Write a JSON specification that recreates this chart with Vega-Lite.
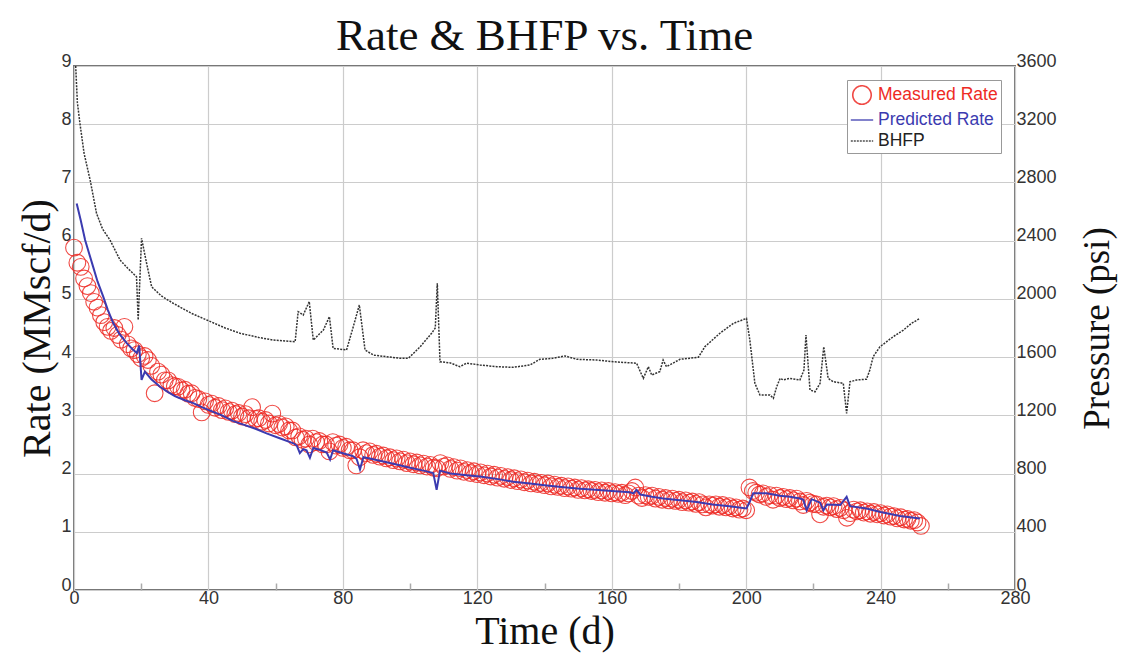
{
"$schema": "https://vega.github.io/schema/vega-lite/v6.json",
"width": 941, "height": 524,
"autosize": {"type": "none"},
"padding": {"left": 74, "top": 66, "right": 116, "bottom": 80},
"background": "white",
"title": {"text": "Rate & BHFP vs. Time", "font": "Liberation Serif", "fontSize": 45, "fontWeight": "normal", "color": "#111111", "anchor": "middle", "offset": -7},
"config": {
  "view": {"stroke": "#777777", "strokeWidth": 2},
  "axis": {"labelFont": "Liberation Sans", "labelFontSize": 18, "labelColor": "#333333", "titleFont": "Liberation Serif", "titleFontSize": 40, "titleFontWeight": "normal", "titleColor": "#111111", "gridColor": "#cccccc", "gridWidth": 1.2, "domain": false, "format": "d"}
},
"datasets": {
"meas": [
{"t":0,"q":5.88},{"t":1,"q":5.62},{"t":2,"q":5.55},{"t":3,"q":5.35},{"t":4,"q":5.22},{"t":5,"q":5.1},{"t":6,"q":4.95},{"t":7,"q":4.85},{"t":8,"q":4.72},{"t":9,"q":4.6},
{"t":10,"q":4.52},{"t":11,"q":4.45},{"t":12,"q":4.5},{"t":13,"q":4.38},{"t":14,"q":4.3},{"t":15,"q":4.52},{"t":16,"q":4.22},{"t":17,"q":4.15},{"t":18,"q":4.12},{"t":19,"q":4.05},
{"t":20,"q":3.98},{"t":21,"q":4.02},{"t":22,"q":3.95},{"t":23,"q":3.85},{"t":24,"q":3.38},{"t":25,"q":3.75},{"t":26,"q":3.7},{"t":27,"q":3.6},{"t":28,"q":3.6},{"t":29,"q":3.52},
{"t":30,"q":3.5},{"t":31,"q":3.49},{"t":32,"q":3.43},{"t":33,"q":3.44},{"t":34,"q":3.37},{"t":35,"q":3.38},{"t":36,"q":3.3},{"t":37,"q":3.28},{"t":38,"q":3.05},{"t":39,"q":3.24},
{"t":40,"q":3.18},{"t":41,"q":3.2},{"t":42,"q":3.13},{"t":43,"q":3.16},{"t":44,"q":3.09},{"t":45,"q":3.12},{"t":46,"q":3.06},{"t":47,"q":3.08},{"t":48,"q":3.02},{"t":49,"q":3.04},
{"t":50,"q":2.98},{"t":51,"q":3.02},{"t":52,"q":2.95},{"t":53,"q":3.14},{"t":54,"q":2.94},{"t":55,"q":2.95},{"t":56,"q":2.89},{"t":57,"q":2.92},{"t":58,"q":2.86},{"t":59,"q":3.03},
{"t":60,"q":2.83},{"t":61,"q":2.85},{"t":62,"q":2.79},{"t":63,"q":2.81},{"t":64,"q":2.74},{"t":65,"q":2.74},{"t":66,"q":2.62},{"t":67,"q":2.64},{"t":68,"q":2.58},{"t":69,"q":2.6},
{"t":70,"q":2.5},{"t":71,"q":2.6},{"t":72,"q":2.54},{"t":73,"q":2.56},{"t":74,"q":2.5},{"t":75,"q":2.5},{"t":76,"q":2.38},{"t":77,"q":2.54},{"t":78,"q":2.48},{"t":79,"q":2.5},
{"t":80,"q":2.44},{"t":81,"q":2.46},{"t":82,"q":2.4},{"t":83,"q":2.4},{"t":84,"q":2.14},{"t":85,"q":2.28},{"t":86,"q":2.4},{"t":87,"q":2.35},{"t":88,"q":2.38},{"t":89,"q":2.32},
{"t":90,"q":2.34},{"t":91,"q":2.29},{"t":92,"q":2.31},{"t":93,"q":2.26},{"t":94,"q":2.28},{"t":95,"q":2.23},{"t":96,"q":2.26},{"t":97,"q":2.21},{"t":98,"q":2.24},{"t":99,"q":2.18},
{"t":100,"q":2.21},{"t":101,"q":2.16},{"t":102,"q":2.19},{"t":103,"q":2.14},{"t":104,"q":2.17},{"t":105,"q":2.12},{"t":106,"q":2.15},{"t":107,"q":2.1},{"t":108,"q":2.09},{"t":109,"q":2.18},
{"t":110,"q":2.12},{"t":111,"q":2.14},{"t":112,"q":2.08},{"t":113,"q":2.11},{"t":114,"q":2.05},{"t":115,"q":2.09},{"t":116,"q":2.03},{"t":117,"q":2.06},{"t":118,"q":2.01},{"t":119,"q":2.04},
{"t":120,"q":1.99},{"t":121,"q":2.02},{"t":122,"q":1.97},{"t":123,"q":2.0},{"t":124,"q":1.95},{"t":125,"q":1.98},{"t":126,"q":1.93},{"t":127,"q":1.96},{"t":128,"q":1.91},{"t":129,"q":1.94},
{"t":130,"q":1.89},{"t":131,"q":1.92},{"t":132,"q":1.87},{"t":133,"q":1.9},{"t":134,"q":1.85},{"t":135,"q":1.88},{"t":136,"q":1.83},{"t":137,"q":1.86},{"t":138,"q":1.82},{"t":139,"q":1.84},
{"t":140,"q":1.8},{"t":141,"q":1.83},{"t":142,"q":1.78},{"t":143,"q":1.81},{"t":144,"q":1.77},{"t":145,"q":1.79},{"t":146,"q":1.75},{"t":147,"q":1.78},{"t":148,"q":1.74},{"t":149,"q":1.76},
{"t":150,"q":1.72},{"t":151,"q":1.75},{"t":152,"q":1.71},{"t":153,"q":1.73},{"t":154,"q":1.7},{"t":155,"q":1.72},{"t":156,"q":1.68},{"t":157,"q":1.71},{"t":158,"q":1.67},{"t":159,"q":1.7},
{"t":160,"q":1.66},{"t":161,"q":1.68},{"t":162,"q":1.65},{"t":163,"q":1.67},{"t":164,"q":1.63},{"t":165,"q":1.66},{"t":166,"q":1.7},{"t":167,"q":1.76},{"t":168,"q":1.62},{"t":169,"q":1.58},
{"t":170,"q":1.63},{"t":171,"q":1.6},{"t":172,"q":1.62},{"t":173,"q":1.57},{"t":174,"q":1.6},{"t":175,"q":1.55},{"t":176,"q":1.58},{"t":177,"q":1.54},{"t":178,"q":1.57},{"t":179,"q":1.53},
{"t":180,"q":1.55},{"t":181,"q":1.51},{"t":182,"q":1.54},{"t":183,"q":1.5},{"t":184,"q":1.52},{"t":185,"q":1.48},{"t":186,"q":1.51},{"t":187,"q":1.47},{"t":188,"q":1.42},{"t":189,"q":1.47},
{"t":190,"q":1.45},{"t":191,"q":1.47},{"t":192,"q":1.43},{"t":193,"q":1.46},{"t":194,"q":1.42},{"t":195,"q":1.44},{"t":196,"q":1.4},{"t":197,"q":1.42},{"t":198,"q":1.38},{"t":199,"q":1.4},
{"t":200,"q":1.37},{"t":201,"q":1.76},{"t":202,"q":1.7},{"t":203,"q":1.67},{"t":204,"q":1.64},{"t":205,"q":1.66},{"t":206,"q":1.6},{"t":207,"q":1.63},{"t":208,"q":1.55},{"t":209,"q":1.62},
{"t":210,"q":1.58},{"t":211,"q":1.6},{"t":212,"q":1.56},{"t":213,"q":1.58},{"t":214,"q":1.54},{"t":215,"q":1.57},{"t":216,"q":1.52},{"t":217,"q":1.46},{"t":218,"q":1.53},{"t":219,"q":1.5},
{"t":220,"q":1.48},{"t":221,"q":1.47},{"t":222,"q":1.3},{"t":223,"q":1.43},{"t":224,"q":1.45},{"t":225,"q":1.42},{"t":226,"q":1.44},{"t":227,"q":1.39},{"t":228,"q":1.41},{"t":229,"q":1.37},
{"t":230,"q":1.24},{"t":231,"q":1.32},{"t":232,"q":1.38},{"t":233,"q":1.35},{"t":234,"q":1.37},{"t":235,"q":1.33},{"t":236,"q":1.35},{"t":237,"q":1.31},{"t":238,"q":1.34},{"t":239,"q":1.3},
{"t":240,"q":1.32},{"t":241,"q":1.28},{"t":242,"q":1.3},{"t":243,"q":1.26},{"t":244,"q":1.27},{"t":245,"q":1.23},{"t":246,"q":1.25},{"t":247,"q":1.21},{"t":248,"q":1.22},{"t":249,"q":1.19},
{"t":250,"q":1.2},{"t":251,"q":1.16},{"t":252,"q":1.1}
],
"pred": [
{"t":0.8,"q":6.64},{"t":2,"q":6.35},{"t":3.3,"q":6.01},{"t":4.5,"q":5.78},{"t":5.7,"q":5.55},{"t":7,"q":5.3},{"t":8.7,"q":5.04},{"t":10,"q":4.82},{"t":11.7,"q":4.58},{"t":13.5,"q":4.4},
{"t":15.7,"q":4.24},{"t":17.5,"q":4.13},{"t":18.7,"q":4.07},{"t":19.4,"q":4.2},{"t":20.1,"q":3.61},{"t":21.1,"q":3.75},{"t":23,"q":3.62},{"t":25.6,"q":3.49},{"t":28,"q":3.4},{"t":30,"q":3.33},
{"t":33,"q":3.26},{"t":35.5,"q":3.21},{"t":38,"q":3.14},{"t":40.5,"q":3.08},{"t":44,"q":3.0},{"t":47.4,"q":2.9},{"t":50.4,"q":2.84},{"t":54,"q":2.77},{"t":57.3,"q":2.69},{"t":61,"q":2.61},
{"t":65.3,"q":2.52},{"t":66.3,"q":2.48},{"t":67.2,"q":2.35},{"t":68.2,"q":2.42},{"t":69.2,"q":2.4},{"t":70.2,"q":2.27},{"t":71.2,"q":2.44},{"t":73,"q":2.41},{"t":75.2,"q":2.36},{"t":76.2,"q":2.24},
{"t":77.1,"q":2.4},{"t":80,"q":2.35},{"t":83,"q":2.3},{"t":84.1,"q":2.25},{"t":85.1,"q":2.07},{"t":86.1,"q":2.28},{"t":88,"q":2.26},{"t":91,"q":2.22},{"t":95,"q":2.17},{"t":100,"q":2.1},
{"t":104,"q":2.05},{"t":106.9,"q":2.01},{"t":107.9,"q":1.72},{"t":108.9,"q":2.05},{"t":112,"q":2.0},{"t":116.8,"q":1.97},{"t":120.8,"q":1.95},{"t":126.7,"q":1.9},{"t":130.7,"q":1.86},{"t":135.7,"q":1.83},
{"t":140,"q":1.8},{"t":145,"q":1.77},{"t":150.5,"q":1.74},{"t":155,"q":1.72},{"t":160,"q":1.7},{"t":165.4,"q":1.68},{"t":166.5,"q":1.66},{"t":167.4,"q":1.72},{"t":168.5,"q":1.64},{"t":172,"q":1.6},
{"t":175.3,"q":1.57},{"t":180.3,"q":1.54},{"t":185.3,"q":1.51},{"t":190,"q":1.47},{"t":195,"q":1.44},{"t":200.1,"q":1.4},{"t":201.1,"q":1.52},{"t":202.1,"q":1.66},{"t":206.1,"q":1.66},{"t":210,"q":1.62},
{"t":213,"q":1.6},{"t":216,"q":1.57},{"t":217,"q":1.55},{"t":218,"q":1.37},{"t":219.5,"q":1.56},{"t":222,"q":1.5},{"t":223,"q":1.37},{"t":224,"q":1.47},{"t":228,"q":1.46},{"t":229.9,"q":1.6},
{"t":230.9,"q":1.44},{"t":235.8,"q":1.4},{"t":240,"q":1.34},{"t":245.8,"q":1.27},{"t":251.7,"q":1.23}
],
"bhfp": [
{"t":0.5,"p":3600},{"t":1,"p":3350},{"t":1.8,"p":3200},{"t":3,"p":3000},{"t":4.8,"p":2817},{"t":6.7,"p":2588},{"t":8.5,"p":2480},{"t":10.7,"p":2405},{"t":13.7,"p":2267},{"t":16,"p":2210},
{"t":18.6,"p":2152},{"t":19.1,"p":1855},{"t":20.1,"p":2416},{"t":21.6,"p":2245},{"t":23.1,"p":2083},{"t":26,"p":2020},{"t":29.5,"p":1970},{"t":35,"p":1900},{"t":39.5,"p":1855},{"t":45,"p":1800},
{"t":49.4,"p":1764},{"t":55,"p":1735},{"t":59.3,"p":1717},{"t":65.8,"p":1706},{"t":66.7,"p":1912},{"t":68.2,"p":1889},{"t":70.0,"p":1981},{"t":71.2,"p":1717},{"t":74.2,"p":1786},{"t":76.0,"p":1878},
{"t":77.1,"p":1660},{"t":81.1,"p":1649},{"t":83.1,"p":1809},{"t":84.9,"p":1958},{"t":86.6,"p":1649},{"t":89.1,"p":1614},{"t":97,"p":1592},{"t":99.5,"p":1592},{"t":103,"p":1671},{"t":106.4,"p":1764},
{"t":107.5,"p":1800},{"t":108.1,"p":2107},{"t":108.9,"p":1568},{"t":112,"p":1560},{"t":114.8,"p":1534},{"t":116.8,"p":1558},{"t":120.8,"p":1546},{"t":125.8,"p":1534},{"t":130.7,"p":1530},{"t":135.7,"p":1546},
{"t":138.6,"p":1585},{"t":142,"p":1590},{"t":146.1,"p":1608},{"t":149.6,"p":1585},{"t":155.5,"p":1580},{"t":160.5,"p":1568},{"t":167.4,"p":1558},{"t":169.4,"p":1454},{"t":170.9,"p":1534},{"t":171.9,"p":1477},
{"t":174.3,"p":1500},{"t":175.3,"p":1580},{"t":176.3,"p":1534},{"t":180.3,"p":1585},{"t":185.8,"p":1599},{"t":187.7,"p":1671},{"t":192.2,"p":1764},{"t":196.2,"p":1832},{"t":200.1,"p":1866},{"t":201.1,"p":1717},
{"t":202.6,"p":1420},{"t":204.1,"p":1340},{"t":207.1,"p":1340},{"t":208.1,"p":1317},{"t":209.1,"p":1397},{"t":210.1,"p":1454},{"t":211.1,"p":1443},{"t":213,"p":1454},{"t":216,"p":1443},{"t":217.2,"p":1511},
{"t":217.8,"p":1752},{"t":219,"p":1374},{"t":220.5,"p":1362},{"t":222,"p":1420},{"t":223.1,"p":1671},{"t":224.4,"p":1454},{"t":225.9,"p":1431},{"t":228.9,"p":1420},{"t":229.9,"p":1214},{"t":230.9,"p":1431},
{"t":232.9,"p":1443},{"t":235.8,"p":1448},{"t":236.8,"p":1511},{"t":237.8,"p":1603},{"t":239.8,"p":1671},{"t":243.8,"p":1741},{"t":246.8,"p":1786},{"t":249.2,"p":1832},{"t":251.7,"p":1866}
]
},
"layer": [
  {
    "layer": [
      {
        "data": {"name": "meas"},
        "mark": {"type": "point", "filled": false, "size": 280, "strokeWidth": 1.1, "opacity": 0.85},
        "encoding": {
          "x": {"field": "t", "type": "quantitative", "scale": {"domain": [0, 280], "nice": false},
                "axis": {"title": "Time (d)", "values": [0,20,40,60,80,100,120,140,160,180,200,220,240,260,280],
                         "labelExpr": "datum.value % 40 === 0 ? datum.label : ''",
                         "gridColor": {"condition": {"test": "datum.value % 40 === 0", "value": "#cccccc"}, "value": "transparent"},
                         "tickColor": {"condition": {"test": "datum.value % 40 === 0", "value": "transparent"}, "value": "#aaaaaa"},
                         "tickSize": -7, "tickWidth": 1.5, "labelPadding": 6, "titlePadding": 4, "labelFlush": false}},
          "y": {"field": "q", "type": "quantitative", "scale": {"domain": [0, 9], "nice": false},
                "axis": {"title": "Rate (MMscf/d)", "values": [0,1,2,3,4,5,6,7,8,9], "ticks": false, "labelPadding": 3, "labelBaseline": "alphabetic", "titlePadding": 3}},
          "color": {"datum": "Measured Rate", "type": "nominal",
                    "scale": {"domain": ["Measured Rate", "Predicted Rate", "BHFP"], "range": ["#ee2a24", "#3b3bb0", "#333333"]},
                    "legend": {"title": null, "orient": "top-right", "offset": 14,
                               "strokeColor": "#999999", "fillColor": "white", "padding": 3,
                               "labelFont": "Liberation Sans", "labelFontSize": 17.5, "labelOffset": 4, "rowPadding": -3,
                               "symbolType": {"expr": "datum.value === 'Measured Rate' ? 'circle' : 'stroke'"},
                               "symbolSize": {"expr": "datum.value === 'Measured Rate' ? 340 : 500"},
                               "symbolDash": {"expr": "datum.value === 'BHFP' ? [2, 1] : [1, 0]"},
                               "symbolStrokeWidth": 1.6,
                               "symbolFillColor": "transparent",
                               "labelColor": {"expr": "datum.value === 'Measured Rate' ? '#ee2a24' : datum.value === 'Predicted Rate' ? '#3b3bb0' : '#222222'"}}}
        }
      },
      {
        "data": {"name": "pred"},
        "mark": {"type": "line", "strokeWidth": 2},
        "encoding": {
          "x": {"field": "t", "type": "quantitative"},
          "y": {"field": "q", "type": "quantitative"},
          "color": {"datum": "Predicted Rate", "type": "nominal"}
        }
      }
    ]
  },
  {
    "data": {"name": "bhfp"},
    "mark": {"type": "line", "strokeWidth": 1.5, "strokeDash": [2, 1.2]},
    "encoding": {
      "x": {"field": "t", "type": "quantitative"},
      "y": {"field": "p", "type": "quantitative", "scale": {"domain": [0, 3600], "nice": false},
            "axis": {"orient": "right", "title": "Pressure (psi)", "titleAngle": 270, "titleFontSize": 37, "values": [0,400,800,1200,1600,2000,2400,2800,3200,3600], "grid": false, "ticks": false, "labelPadding": 1, "labelBaseline": "alphabetic", "titlePadding": 60}},
      "color": {"datum": "BHFP", "type": "nominal"}
    }
  }
],
"resolve": {"scale": {"y": "independent"}}
}
